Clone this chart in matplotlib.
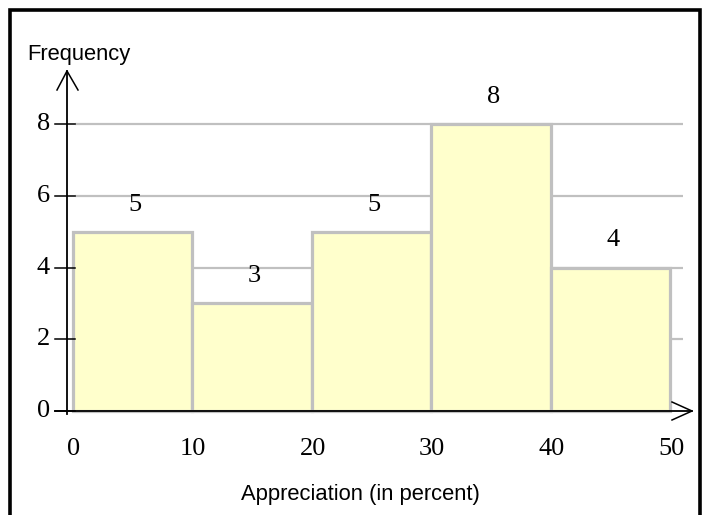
import matplotlib
matplotlib.use("Agg")
import matplotlib.pyplot as plt
from matplotlib.patches import Rectangle

# Data
bin_edges = [0, 10, 20, 30, 40, 50]
frequencies = [5, 3, 5, 8, 4]
x_ticks = [0, 10, 20, 30, 40, 50]
y_ticks = [0, 2, 4, 6, 8]
x_label = "Appreciation (in percent)"
y_label = "Frequency"

W, H = 703, 515
fig = plt.figure(figsize=(W / 100, H / 100), dpi=100)
ax = fig.add_axes([0, 0, 1, 1])

# pixel mapping: x data 0 -> 72.5 px, 11.95 px/unit; y data 0 -> 411 px from top, 35.875 px/unit
x0, sx = 72.5, 11.95
y0, sy = 411.0, 35.875
ax.set_xlim(-x0 / sx, (W - x0) / sx)
ax.set_ylim(-(H - y0) / sy, y0 / sy)
ax.axis("off")

def dx(p):
    return (p - x0) / sx

def dy(p):
    return (y0 - p) / sy

serif = "Liberation Serif"
sans = "Liberation Sans"
grey = "#c0c0c0"
num_fs = 19
txt_fs = 15.8

# gridlines
for t in y_ticks[1:]:
    ax.plot([dx(75), dx(683)], [t, t], color=grey, lw=1.6, zorder=1, solid_capstyle="butt")

# bars
lefts = bin_edges[:-1]
widths = [b - a for a, b in zip(bin_edges[:-1], bin_edges[1:])]
ax.bar(lefts, frequencies, width=widths, align="edge", color="#ffffcc",
       edgecolor=grey, linewidth=2.3, zorder=2)

# bar value labels
for l, w, f in zip(lefts, widths, frequencies):
    ax.text(l + w / 2 + 0.2, f + 27 / sy, str(f), ha="center", va="center",
            fontsize=num_fs, family=serif, color="black", zorder=5)

# axes lines
ax.plot([dx(67), dx(67)], [dy(414), dy(71)], color="black", lw=1.3, zorder=4)
ax.plot([dx(55), dx(692)], [0, 0], color="black", lw=1.3, zorder=4)
# arrows
ax.plot([dx(57), dx(67), dx(78)], [dy(90), dy(71), dy(90)], color="black", lw=1.1, zorder=4)
ax.plot([dx(672), dx(692), dx(672)], [dy(402), dy(411), dy(420)], color="black", lw=1.1, zorder=4)

# y ticks
for t in y_ticks:
    ax.plot([dx(55), dx(75)], [t, t], color="black", lw=1.1, zorder=4)
    ax.text(dx(50), t, str(t), ha="right", va="center", fontsize=num_fs, family=serif)

# x tick labels
for t in x_ticks:
    ax.text(t + 0.1, dy(449), str(t), ha="center", va="center", fontsize=num_fs, family=serif)

# axis labels
ax.text(dx(27), dy(59.5), y_label, ha="left", va="baseline", fontsize=txt_fs, family=sans)
ax.text(dx(360), dy(500), x_label, ha="center", va="baseline", fontsize=txt_fs, family=sans)

# outer border
fig.patches.append(Rectangle((10 / W, -0.05), (700 - 10) / W, (H - 10) / H + 0.05,
                             transform=fig.transFigure, fill=False, edgecolor="black",
                             linewidth=2.6, zorder=10))

fig.savefig("out.png", dpi=100)
